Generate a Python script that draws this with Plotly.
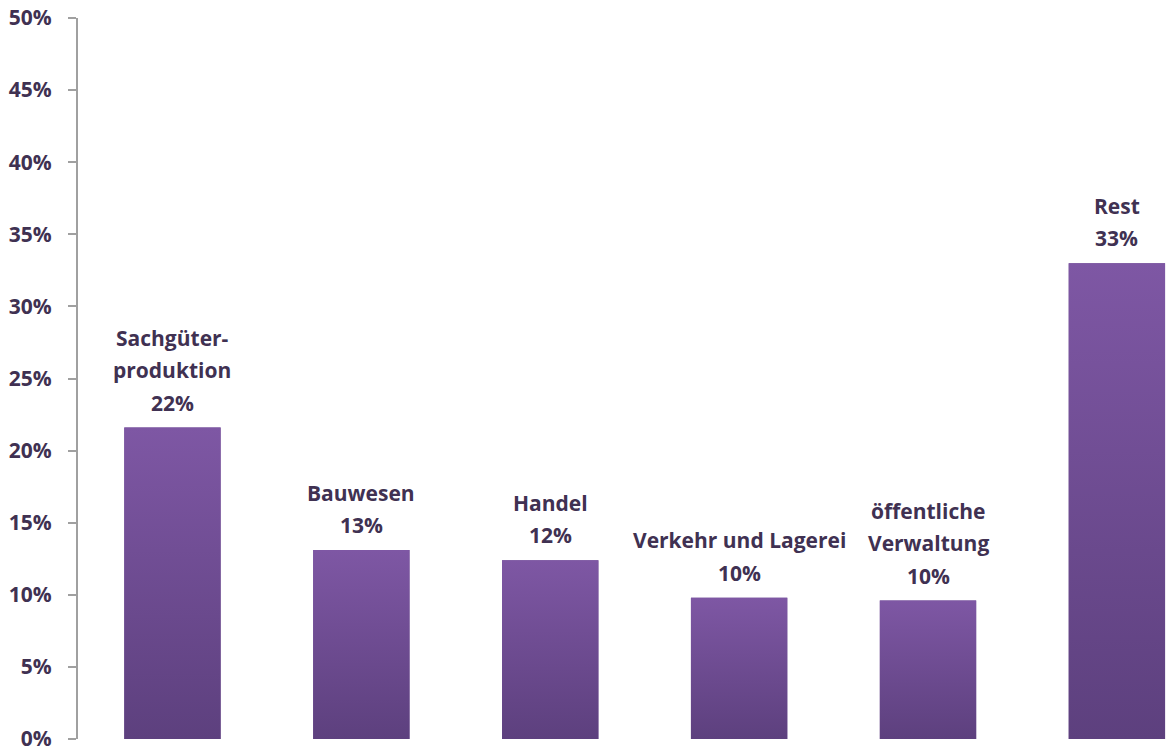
import plotly.graph_objects as go

categories = ["Sachgüter-\nproduktion", "Bauwesen", "Handel", "Verkehr und Lagerei",
              "öffentliche\nVerwaltung", "Rest"]
values = [21.6, 13.1, 12.4, 9.8, 9.6, 33.0]
pct_labels = ["22%", "13%", "12%", "10%", "10%", "33%"]
y_ticks = [0, 5, 10, 15, 20, 25, 30, 35, 40, 45, 50]
y_tick_text = [f"{t}%" for t in y_ticks]

TEXT = "#403152"
TOP = "#7E57A4"
BOTTOM = "#5D407E"
FONT = "Open Sans"
BAR_W = 0.51

x = list(range(len(categories)))
fig = go.Figure()
fig.add_trace(go.Bar(x=x, y=values, width=BAR_W, marker=dict(color="#6E4C92", line=dict(width=0)),
                     hoverinfo="skip", showlegend=False))

# gradient overlay per bar
for i, v in zip(x, values):
    fig.add_trace(go.Scatter(
        x=[i - BAR_W / 2, i + BAR_W / 2, i + BAR_W / 2, i - BAR_W / 2, i - BAR_W / 2],
        y=[0, 0, v, v, 0], mode="lines", line=dict(width=0), fill="toself",
        fillgradient=dict(type="vertical", colorscale=[[0, BOTTOM], [1, TOP]]),
        hoverinfo="skip", showlegend=False))

annotations = []
for i, (c, v, p) in enumerate(zip(categories, values, pct_labels)):
    lines = c.split("\n") + [p]
    for k, line in enumerate(reversed(lines)):
        annotations.append(dict(x=i, y=v, xref="x", yref="y", text=line, showarrow=False,
                                yanchor="bottom", xanchor="center", yshift=9 + k * 32.5,
                                font=dict(family=FONT, size=21, color=TEXT, weight="bold")))

fig.update_layout(
    width=1166, height=748,
    margin=dict(l=78, r=0, t=18, b=9, autoexpand=False),
    paper_bgcolor="white", plot_bgcolor="white",
    annotations=annotations,
    xaxis=dict(range=[-0.5, 5.26], showticklabels=False, showgrid=False, zeroline=False,
               showline=False, ticks="", automargin=False),
    yaxis=dict(range=[0, 50], tickvals=y_ticks, ticktext=y_tick_text, showgrid=False,
               zeroline=False, showline=True, linecolor="#A0A0A0", linewidth=2,
               ticks="outside", ticklen=8, tickcolor="#A0A0A0", tickwidth=2,
               ticklabelstandoff=12, ticklabeloverflow="allow", automargin=False,
               tickfont=dict(family=FONT, size=21, color=TEXT, weight="bold")),
)
fig.write_html(
    "out.html",
    config={"displayModeBar": False},
    post_script=("document.documentElement.style.overflow='hidden';"
                 "document.body.style.margin='0';document.body.style.overflow='hidden';"),
)
